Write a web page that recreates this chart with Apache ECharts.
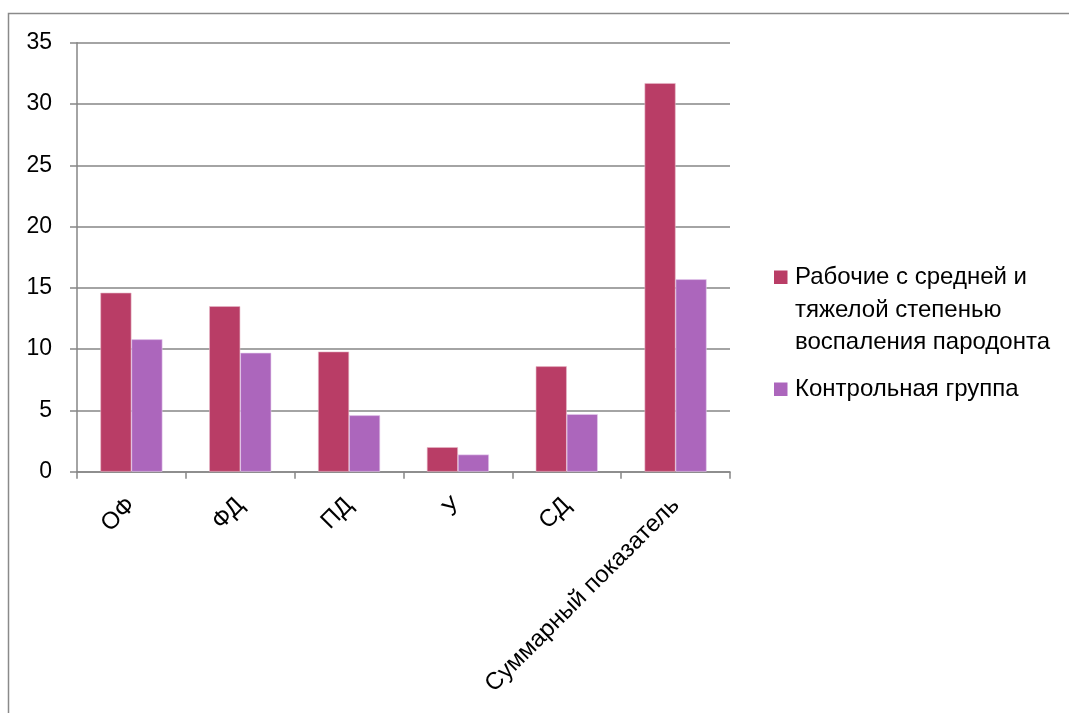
<!DOCTYPE html>
<html>
<head>
<meta charset="utf-8">
<script src="https://cdn.jsdelivr.net/npm/echarts@6/dist/echarts.min.js"></script>
<style>
html,body{margin:0;padding:0;background:#fff;}
#chart{width:1069px;height:713px;}
</style>
</head>
<body>
<div id="chart"></div>
<script>
var categories = ['ОФ', 'ФД', 'ПД', 'У', 'СД', 'Суммарный показатель'];
var seriesNames = ['Рабочие с средней и тяжелой степенью воспаления пародонта', 'Контрольная группа'];
var legendLines = [['Рабочие с средней и', 'тяжелой степенью', 'воспаления пародонта'], ['Контрольная группа']];
var workersValues = [14.6, 13.5, 9.8, 2.0, 8.6, 31.7];
var controlValues = [10.8, 9.7, 4.6, 1.4, 4.7, 15.7];
var yTicks = [0, 5, 10, 15, 20, 25, 30, 35];
var colors = ['#B93D66', '#AC66BC'];

var FONT = '"Liberation Sans", Arial, sans-serif';
var chart = echarts.init(document.getElementById('chart'), null, {renderer: 'canvas'});

var legendGraphics = [];
var legendTop = [270.5, 382.5];
for (var i = 0; i < seriesNames.length; i++) {
  legendGraphics.push({
    type: 'rect',
    shape: {x: 774, y: legendTop[i], width: 13.5, height: 13.5},
    style: {fill: colors[i]}
  });
  legendGraphics.push({
    type: 'text',
    x: 795, y: legendTop[i] - 9,
    style: {
      text: legendLines[i].join('\n'),
      font: '24px ' + FONT,
      fill: '#000',
      lineHeight: 32.5,
      textVerticalAlign: 'top'
    }
  });
}
legendGraphics.push({
  type: 'rect',
  shape: {x: 8.5, y: 13.5, width: 1080, height: 720},
  style: {fill: null, stroke: '#8a8a8a', lineWidth: 1.5},
  silent: true
});

chart.setOption({
  animation: false,
  backgroundColor: '#fff',
  grid: {left: 77, right: 339, top: 42.7, bottom: 241.3, containLabel: false},
  xAxis: {
    type: 'category',
    data: categories,
    axisLine: {show: true, lineStyle: {color: '#868686', width: 1.5}},
    axisTick: {show: true, length: 7, lineStyle: {color: '#868686', width: 1.5}},
    axisLabel: {
      rotate: 45, margin: 30, interval: 0,
      fontFamily: FONT, fontSize: 24, color: '#000'
    },
    splitLine: {show: false}
  },
  yAxis: {
    type: 'value',
    min: yTicks[0], max: yTicks[yTicks.length - 1], interval: 5,
    axisLine: {show: true, lineStyle: {color: '#868686', width: 1.5}},
    axisTick: {show: true, length: 7, lineStyle: {color: '#868686', width: 1.5}},
    axisLabel: {margin: 25, fontFamily: FONT, fontSize: 23, color: '#000'},
    splitLine: {show: true, lineStyle: {color: '#868686', width: 1.5}}
  },
  series: [
    {
      name: seriesNames[0], type: 'bar', data: workersValues,
      barGap: '0%', barCategoryGap: '43%',
      itemStyle: {color: colors[0], borderColor: '#e8b8c8', borderWidth: 0.6}
    },
    {
      name: seriesNames[1], type: 'bar', data: controlValues,
      barGap: '0%', barCategoryGap: '43%',
      itemStyle: {color: colors[1], borderColor: '#e6cdee', borderWidth: 0.6}
    }
  ],
  graphic: legendGraphics
});
</script>
</body>
</html>
